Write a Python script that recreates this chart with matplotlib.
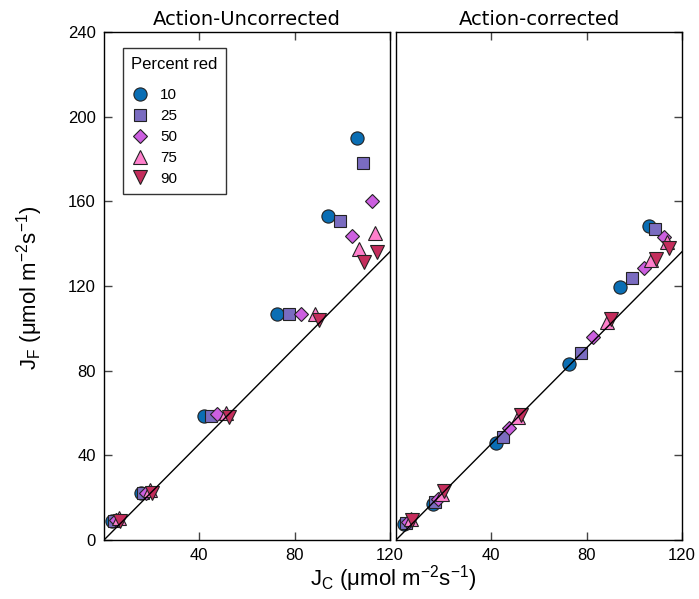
import numpy as np
import matplotlib
matplotlib.use("Agg")
import matplotlib.pyplot as plt

plt.rcParams['font.family'] = ['Liberation Sans', 'DejaVu Sans']
plt.rcParams['mathtext.fontset'] = 'custom'
plt.rcParams['mathtext.rm'] = 'Liberation Sans'
plt.rcParams['mathtext.it'] = 'Liberation Sans:italic'

# percent red treatments
labels = ['10', '25', '50', '75', '90']

# J_C (x) for each treatment, six light levels
jc_10 = [3.2, 15.5, 41.8, 72.5, 94.0, 106.0]
jc_25 = [4.0, 16.5, 44.8, 77.6, 99.2, 108.8]
jc_50 = [5.0, 17.5, 47.6, 82.8, 104.0, 112.4]
jc_75 = [6.3, 19.2, 51.1, 88.4, 106.9, 113.8]
jc_90 = [6.8, 20.0, 52.6, 90.4, 108.9, 114.7]

# J_F, action-uncorrected
jf_unc_10 = [9.0, 22.0, 58.6, 106.8, 153.0, 189.7]
jf_unc_25 = [9.0, 22.0, 58.6, 106.8, 150.7, 178.2]
jf_unc_50 = [9.5, 22.0, 59.4, 106.8, 143.6, 160.1]
jf_unc_75 = [10.5, 23.5, 59.8, 107.0, 137.5, 145.2]
jf_unc_90 = [9.2, 22.3, 58.2, 104.0, 131.3, 136.2]

# J_F, action-corrected
jf_cor_10 = [7.5, 17.2, 45.7, 83.1, 119.7, 148.5]
jf_cor_25 = [8.0, 18.0, 48.5, 88.3, 123.6, 146.8]
jf_cor_50 = [8.5, 19.5, 52.8, 96.0, 128.3, 143.3]
jf_cor_75 = [10.0, 21.5, 58.2, 103.0, 132.3, 141.0]
jf_cor_90 = [9.5, 23.0, 59.0, 104.5, 132.6, 137.8]

# reference line
line_x = [0, 120]
line_slope = 1.135

markers = ['o', 's', 'D', '^', 'v']
msizes = [9.5, 8, 7.5, 10.5, 10.5]
colors = ['#0a6eb4', '#7a6cc0', '#cc5fe0', '#ff80cc', '#c42d5c']

jc = [jc_10, jc_25, jc_50, jc_75, jc_90]
unc = [jf_unc_10, jf_unc_25, jf_unc_50, jf_unc_75, jf_unc_90]
cor = [jf_cor_10, jf_cor_25, jf_cor_50, jf_cor_75, jf_cor_90]

fig = plt.figure(figsize=(6.99, 5.99), dpi=100)
ax1 = fig.add_axes([104/699, 59/599, 286/699, 508/599])
ax2 = fig.add_axes([396/699, 59/599, 286/699, 508/599])

for ax, data, title in [(ax1, unc, 'Action-Uncorrected'), (ax2, cor, 'Action-corrected')]:
    for i in range(5):
        ax.plot(jc[i], data[i], linestyle='none', marker=markers[i], ms=msizes[i],
                mfc=colors[i], mec='#222222', mew=0.8, label=labels[i], zorder=2)
    lx = np.array(line_x)
    ax.plot(lx, line_slope*lx, color='black', lw=1.0, zorder=3)
    ax.set_xlim(0, 120)
    ax.set_ylim(0, 240)
    ax.set_xticks([40, 80, 120])
    ax.set_yticks([0, 40, 80, 120, 160, 200, 240])
    ax.tick_params(direction='in', length=6, width=1, color='#444444', labelsize=12,
                   top=True, pad=6)
    ax.set_title(title, fontsize=14, family='DejaVu Sans', pad=5)
    for s in ax.spines.values():
        s.set_linewidth(1.0)

ax1.tick_params(axis='y', left=True, right=False)
ax2.tick_params(axis='y', left=False, right=True, labelleft=False)

leg = ax1.legend(loc='upper left', bbox_to_anchor=(0.066, 0.968), title='Percent red',
                 fontsize=11, title_fontsize=12, frameon=True, fancybox=False,
                 edgecolor='black', handlelength=1.2, handletextpad=0.7,
                 labelspacing=0.45, borderpad=0.55, borderaxespad=0, numpoints=1)
leg.get_frame().set_linewidth(1.0)
leg._legend_box.align = 'left'
leg._legend_box.sep = 12  # extra gap under the title

fig.text(30/699, 0.52, r'$\mathregular{J_F}$ (μmol m$^{\mathregular{-2}}$s$^{\mathregular{-1}}$)',
         rotation=90, ha='center', va='center', fontsize=16)
fig.text(393/699, 20/599, r'$\mathregular{J_C}$ (μmol m$^{\mathregular{-2}}$s$^{\mathregular{-1}}$)',
         ha='center', va='center', fontsize=16)

fig.savefig('out.png', dpi=100)
